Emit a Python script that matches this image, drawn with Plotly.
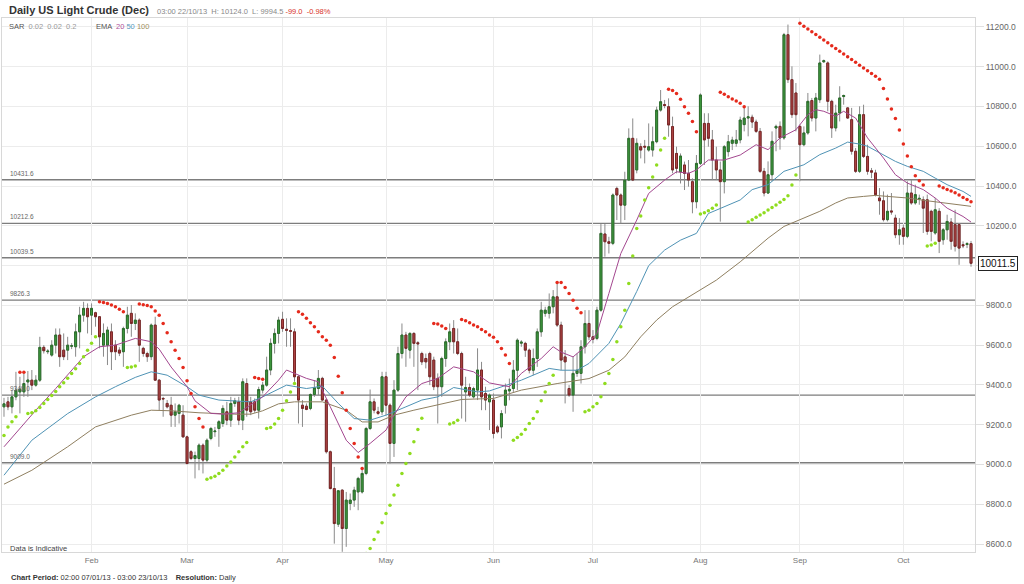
import plotly.graph_objects as go

# ---------------- data ----------------
open_ = [9290, 9315, 9290, 9340, 9365, 9365, 9415, 9424, 9399, 9424,
         9589, 9567, 9550, 9600, 9651, 9575, 9575, 9595, 9592, 9667,
         9751, 9785, 9751, 9763, 9743, 9600, 9600, 9667, 9600, 9575,
         9567, 9684, 9760, 9709, 9726, 9584, 9558, 9542, 9701, 9424,
         9332, 9307, 9298, 9248, 9257, 9248, 9139, 9064, 9030, 9030,
         9097, 9022, 9131, 9165, 9181, 9206, 9265, 9223, 9307, 9315,
         9223, 9407, 9315, 9315, 9273, 9374, 9399, 9475, 9609, 9659,
         9730, 9680, 9673, 9667, 9441, 9298, 9293, 9282, 9352, 9382,
         9433, 9324, 9064, 8879, 8700, 8871, 8678, 8804, 8821, 8862,
         8862, 8955, 9181, 9315, 9265, 9265, 9441, 9298, 9106, 9374,
         9558, 9651, 9575, 9659, 9612, 9558, 9533, 9558, 9525, 9433,
         9391, 9533, 9617, 9684, 9617, 9558, 9365, 9387, 9340, 9374,
         9475, 9357, 9315, 9324, 9189, 9189, 9298, 9370, 9382, 9474,
         9610, 9609, 9575, 9474, 9533, 9667, 9760, 9760, 9793, 9843,
         9701, 9541, 9382, 9349, 9458, 9458, 9592, 9709, 9642, 9634,
         9776, 10159, 10120, 10112, 10388, 10355, 10304, 10430, 10640, 10481,
         10598, 10600, 10581, 10581, 10623, 10782, 10810, 10799, 10699, 10564,
         10472, 10506, 10464, 10422, 10321, 10514, 10715, 10715, 10632, 10531,
         10481, 10422, 10573, 10615, 10615, 10632, 10709, 10742, 10746, 10722,
         10675, 10474, 10365, 10457, 10692, 10700, 10642, 11161, 10935, 10868,
         10700, 10608, 10667, 10830, 10742, 10834, 11025, 11019, 10826, 10692,
         10767, 10850, 10793, 10734, 10575, 10474, 10759, 10549, 10477, 10466,
         10340, 10326, 10231, 10275, 10239, 10155, 10189, 10147, 10365, 10315,
         10335, 10331, 10331, 10273, 10164, 10273, 10130, 10180, 10219, 10206,
         10206, 10105, 10106, 10110.5]
high = [9335, 9340, 9374, 9466, 9441, 9458, 9470, 9475, 9449, 9642,
        9600, 9580, 9625, 9684, 9684, 9659, 9642, 9610, 9709, 9793,
        9818, 9810, 9810, 9768, 9743, 9709, 9693, 9709, 9625, 9590,
        9693, 9793, 9802, 9760, 9735, 9592, 9567, 9709, 9743, 9430,
        9340, 9324, 9340, 9307, 9305, 9298, 9145, 9072, 9065, 9106,
        9106, 9131, 9189, 9189, 9223, 9298, 9315, 9340, 9335, 9340,
        9433, 9433, 9340, 9332, 9391, 9416, 9542, 9634, 9684, 9743,
        9768, 9735, 9735, 9684, 9449, 9324, 9307, 9357, 9424, 9475,
        9441, 9330, 9070, 8988, 8871, 8875, 8862, 8854, 8888, 8938,
        8988, 9189, 9377, 9332, 9290, 9466, 9466, 9307, 9424, 9592,
        9709, 9667, 9665, 9665, 9620, 9567, 9558, 9567, 9542, 9458,
        9542, 9634, 9709, 9726, 9684, 9567, 9441, 9407, 9391, 9584,
        9516, 9391, 9357, 9357, 9198, 9273, 9407, 9432, 9525, 9634,
        9625, 9617, 9583, 9583, 9684, 9818, 9793, 9860, 9877, 9919,
        9718, 9575, 9399, 9541, 9558, 9625, 9776, 9776, 9676, 9793,
        10209, 10209, 10145, 10363, 10397, 10363, 10472, 10690, 10740, 10640,
        10615, 10632, 10715, 10699, 10799, 10883, 10833, 10841, 10749, 10598,
        10564, 10523, 10531, 10439, 10556, 10866, 10766, 10766, 10682, 10598,
        10523, 10606, 10657, 10648, 10682, 10749, 10793, 10801, 10759, 10734,
        10692, 10491, 10524, 10675, 10709, 10725, 11170, 11212, 11002, 10918,
        10709, 10700, 10868, 10843, 10868, 11061, 11036, 11027, 10834, 10809,
        10902, 10860, 10796, 10793, 10591, 10801, 10809, 10608, 10491, 10482,
        10390, 10373, 10357, 10365, 10256, 10239, 10206, 10424, 10432, 10407,
        10357, 10348, 10357, 10281, 10340, 10289, 10189, 10256, 10239, 10281,
        10214, 10122, 10118, 10124.0]
low = [9240, 9273, 9257, 9323, 9257, 9340, 9340, 9374, 9391, 9415,
       9558, 9555, 9542, 9558, 9491, 9525, 9525, 9580, 9542, 9584,
       9718, 9659, 9651, 9693, 9584, 9542, 9500, 9475, 9525, 9545,
       9491, 9659, 9642, 9676, 9516, 9542, 9516, 9525, 9420, 9273,
       9240, 9282, 9189, 9189, 9206, 9135, 9000, 9022, 8930, 8971,
       8955, 9013, 9122, 9139, 9089, 9189, 9198, 9189, 9290, 9198,
       9173, 9240, 9248, 9260, 9231, 9357, 9391, 9449, 9558, 9609,
       9667, 9592, 9592, 9416, 9206, 9189, 9273, 9273, 9340, 9349,
       9320, 9055, 8875, 8602, 8686, 8561, 8586, 8770, 8787, 8770,
       8854, 8946, 9173, 9257, 9248, 9248, 9248, 9005, 9038, 9365,
       9533, 9491, 9533, 9491, 9374, 9500, 9483, 9399, 9374, 9206,
       9340, 9491, 9575, 9558, 9550, 9231, 9215, 9340, 9332, 9324,
       9273, 9273, 9173, 9131, 9156, 9131, 9256, 9323, 9365, 9374,
       9592, 9541, 9458, 9449, 9491, 9642, 9743, 9734, 9760, 9692,
       9474, 9307, 9340, 9265, 9441, 9407, 9558, 9625, 9609, 9625,
       9768, 10045, 10061, 10103, 10229, 10212, 10229, 10425, 10425, 10464,
       10539, 10514, 10573, 10548, 10615, 10774, 10791, 10648, 10464, 10464,
       10413, 10380, 10397, 10263, 10288, 10506, 10506, 10598, 10430, 10430,
       10221, 10363, 10548, 10581, 10598, 10615, 10675, 10650, 10692, 10667,
       10466, 10348, 10360, 10424, 10575, 10583, 10633, 10918, 10742, 10675,
       10424, 10600, 10658, 10725, 10675, 10818, 11019, 10776, 10642, 10675,
       10725, 10809, 10738, 10558, 10466, 10466, 10541, 10457, 10440, 10348,
       10256, 10222, 10222, 10256, 10138, 10105, 10105, 10138, 10306, 10306,
       10306, 10164, 10155, 10122, 10155, 10063, 10105, 10130, 10080, 10071,
       10004, 10088, 10088, 9994.5]
close = [9305, 9290, 9340, 9374, 9379, 9407, 9425, 9399, 9424, 9589,
         9572, 9570, 9600, 9651, 9542, 9542, 9600, 9597, 9667, 9751,
         9785, 9743, 9785, 9743, 9642, 9659, 9676, 9567, 9567, 9560,
         9684, 9751, 9709, 9726, 9600, 9558, 9542, 9701, 9424, 9324,
         9330, 9290, 9248, 9265, 9298, 9139, 9005, 9030, 9045, 9097,
         9022, 9122, 9181, 9168, 9215, 9282, 9223, 9307, 9320, 9223,
         9416, 9273, 9265, 9273, 9377, 9399, 9475, 9609, 9659, 9726,
         9684, 9675, 9670, 9441, 9324, 9282, 9277, 9352, 9386, 9433,
         9324, 9064, 8879, 8703, 8868, 8678, 8821, 8821, 8871, 8930,
         8955, 9181, 9315, 9273, 9257, 9441, 9298, 9106, 9374, 9558,
         9651, 9584, 9659, 9609, 9607, 9516, 9516, 9441, 9391, 9391,
         9533, 9617, 9667, 9617, 9558, 9399, 9387, 9349, 9382, 9475,
         9340, 9324, 9349, 9156, 9164, 9256, 9374, 9378, 9474, 9625,
         9615, 9575, 9474, 9533, 9667, 9776, 9776, 9793, 9843, 9701,
         9525, 9516, 9349, 9458, 9474, 9592, 9709, 9642, 9630, 9776,
         10162, 10120, 10112, 10355, 10355, 10304, 10430, 10640, 10430, 10615,
         10581, 10596, 10598, 10623, 10782, 10824, 10805, 10707, 10481, 10489,
         10551, 10464, 10430, 10321, 10514, 10858, 10632, 10640, 10531, 10481,
         10422, 10598, 10623, 10631, 10632, 10732, 10742, 10748, 10722, 10675,
         10474, 10365, 10457, 10625, 10700, 10642, 11161, 10935, 10759, 10759,
         10608, 10667, 10826, 10742, 10843, 11019, 11030, 10826, 10692, 10767,
         10843, 10855, 10742, 10575, 10474, 10759, 10549, 10474, 10470, 10357,
         10326, 10231, 10273, 10270, 10155, 10180, 10147, 10365, 10315, 10357,
         10338, 10289, 10172, 10172, 10281, 10122, 10180, 10222, 10122, 10097,
         10088, 10100, 10110.5, 10011.5]
day = list(range(len(close)))  # trading-session index (Jan 7 -> Oct 22)

month_day = [22, 46, 70, 96, 123, 148, 175, 200, 226]
month_lbl = ["Feb", "Mar", "Apr", "May", "Jun", "Jul", "Aug", "Sep", "Oct"]

price_ticks = [8600, 8800, 9000, 9200, 9400, 9600, 9800, 10000, 10200, 10400, 10600, 10800, 11000, 11200]
price_tick_text = ["8600.0", "8800.0", "9000.0", "9200.0", "9400.0", "9600.0", "9800.0", "",
                   "10200.0", "10400.0", "10600.0", "10800.0", "11000.0", "11200.0"]

ema20_day = [0, 8, 13, 20, 24, 28, 33, 37, 39, 42, 46, 48, 52, 55, 59, 65, 69, 71, 76, 79,
             82, 86, 89, 92, 96, 98, 101, 105, 109, 113, 118, 122, 127, 130, 135, 138, 140, 143, 146, 149,
             152, 155, 159, 162, 166, 169, 172, 174, 177, 181, 185, 189, 192, 195, 199, 202, 204, 206, 209, 211,
             214, 217, 221, 224, 227, 231, 234, 237, 241, 243]
ema20_val = [9089, 9273, 9382, 9542, 9592, 9600, 9634, 9617, 9580, 9490, 9391, 9320, 9257, 9253, 9260, 9340, 9424, 9475, 9433, 9416,
             9290, 9122, 9060, 9106, 9173, 9248, 9340, 9407, 9433, 9491, 9466, 9410, 9391, 9458, 9533, 9592, 9565, 9541, 9592, 9659,
             9860, 10061, 10229, 10363, 10430, 10472, 10464, 10481, 10531, 10531, 10556, 10608, 10583, 10642, 10683, 10759, 10784, 10776, 10751, 10776,
             10742, 10642, 10541, 10457, 10415, 10382, 10340, 10289, 10247, 10219]
ema50_day = [0, 7, 16, 23, 28, 33, 37, 41, 46, 49, 54, 62, 65, 71, 76, 80, 84, 88, 92, 96,
             101, 105, 109, 113, 119, 122, 130, 137, 140, 144, 147, 152, 155, 159, 162, 166, 170, 174, 177, 181,
             185, 188, 192, 196, 201, 205, 209, 212, 215, 217, 221, 224, 227, 231, 234, 237, 241, 243]
ema50_val = [8946, 9122, 9256, 9340, 9391, 9438, 9466, 9449, 9391, 9349, 9324, 9315, 9340, 9399, 9382, 9394, 9307, 9231, 9223, 9248,
             9290, 9324, 9340, 9387, 9365, 9370, 9424, 9483, 9474, 9474, 9508, 9609, 9709, 9870, 10000, 10078, 10128, 10162, 10262, 10296,
             10330, 10382, 10407, 10474, 10507, 10558, 10591, 10621, 10611, 10600, 10558, 10524, 10499, 10474, 10440, 10407, 10373, 10348]
ema100_day = [0, 7, 16, 23, 32, 37, 42, 49, 58, 62, 65, 69, 73, 80, 86, 90, 94, 98, 103, 107,
              111, 115, 123, 130, 139, 147, 152, 156, 160, 164, 168, 172, 175, 179, 185, 188, 192, 196, 201, 205,
              209, 212, 216, 219, 222, 227, 232, 237, 243]
ema100_val = [8901, 8971, 9089, 9189, 9248, 9273, 9270, 9260, 9253, 9253, 9270, 9305, 9315, 9315, 9273, 9214, 9214, 9248, 9273, 9290,
              9307, 9327, 9332, 9374, 9407, 9432, 9474, 9541, 9642, 9726, 9793, 9843, 9877, 9927, 10019, 10071, 10138, 10197, 10239, 10273,
              10315, 10340, 10348, 10353, 10348, 10340, 10326, 10315, 10298]

sar_up_day = [0, 1, 2, 3,
              6, 7, 8, 9, 10, 11, 12, 13, 14, 15, 16, 17, 18, 19, 20, 21, 22, 23,
              31, 32, 33,
              51, 52, 53, 54, 55, 56, 57, 58, 59, 60, 61,
              66, 67, 68, 69, 70, 71, 72, 73,
              91, 92, 93, 94, 95, 96, 97, 98, 99, 100, 101, 102, 103, 104, 105,
              112, 113, 114,
              128, 129, 130, 131, 132, 133, 134, 135, 136, 137, 138,
              146, 147, 148, 149, 150, 151, 152, 153, 154, 155, 156, 157, 158, 159, 160, 161, 162, 163, 164, 165, 166,
              175, 176, 177, 178, 179,
              187, 188, 189, 190, 191, 192, 193, 194, 195, 196, 197, 198, 199,
              232, 233, 234]
sar_up_val = [9146, 9189, 9215, 9240,
              9256, 9260, 9270, 9287, 9307, 9327, 9347, 9367, 9391, 9411, 9434, 9458, 9481, 9508, 9542, 9575, 9609, 9642,
              9488, 9490, 9495,
              8926, 8933, 8941, 8955, 8971, 8992, 9013, 9038, 9064, 9089, 9110,
              9181, 9186, 9203, 9231, 9273, 9320, 9365, 9407,
              8552, 8577, 8623, 8661, 8707, 8754, 8795, 8846, 8896, 8955, 9005, 9055, 9114, 9176, 9232,
              9203, 9210, 9223,
              9122, 9136, 9152, 9176, 9206, 9231, 9265, 9320, 9365, 9407, 9449,
              9265, 9273, 9290, 9307, 9340, 9407, 9458, 9528, 9617, 9692, 9776, 9910, 10048, 10187, 10249, 10330, 10392, 10446, 10506, 10581, 10640,
              10259, 10266, 10276, 10288, 10305,
              10219, 10231, 10243, 10254, 10266, 10279, 10292, 10305, 10318, 10332, 10351, 10405, 10455,
              10098, 10103, 10112]
sar_dn_day = [4, 5,
              24, 25, 26, 27, 28, 29, 30,
              34, 35, 36, 37, 38, 39, 40, 41, 42, 43, 44, 45, 46, 47, 48, 49, 50,
              63, 64, 65,
              74, 75, 76, 77, 78, 79, 80, 81, 82, 83, 84, 85, 86, 87, 88, 89, 90,
              108, 109, 110, 111,
              115, 116, 117, 118, 119, 120, 121, 122, 123, 124, 125, 126, 127,
              139, 140, 141, 142, 143, 144, 145,
              167, 168, 169, 170, 171, 172, 173, 174,
              180, 181, 182, 183, 184, 185, 186,
              200, 201, 202, 203, 204, 205, 206, 207, 208, 209, 210, 211, 212, 213, 214, 215,
              216, 217, 218, 219, 220, 221, 222, 223, 224, 225, 226, 227, 228, 229, 230, 231,
              235, 236, 237, 238, 239, 240, 241, 242, 243]
sar_dn_val = [9464, 9464,
              9818, 9815, 9810, 9802, 9793, 9781, 9768,
              9807, 9803, 9800, 9793, 9772, 9750, 9709, 9662, 9617, 9575, 9533, 9488, 9421, 9357, 9290, 9231, 9189,
              9437, 9433, 9428,
              9768, 9756, 9735, 9713, 9693, 9667, 9642, 9625, 9600, 9538, 9444, 9361, 9273, 9181, 9106, 9038, 8980,
              9709, 9706, 9696, 9684,
              9729, 9723, 9713, 9701, 9693, 9679, 9667, 9651, 9640, 9617, 9583, 9550, 9508,
              9915, 9915, 9890, 9860, 9826, 9786, 9763,
              10887, 10880, 10866, 10836, 10799, 10766, 10724, 10673,
              10872, 10861, 10849, 10838, 10828, 10816, 10799,
              11218, 11204, 11190, 11176, 11162, 11148, 11134, 11120, 11106, 11092, 11078, 11064, 11050, 11036, 11022, 11008,
              10994, 10980, 10966, 10952, 10937, 10891, 10838, 10787, 10740, 10682, 10611, 10551, 10497, 10452, 10427, 10405,
              10400, 10392, 10383, 10375, 10366, 10355, 10343, 10333, 10321]

level_val = [10431.6, 10212.6, 10039.5, 9826.3, 9349.0, 9009.0]
last_price = 10011.5

# ---------------- figure ----------------
FONT = "Liberation Sans, Arial, sans-serif"
body_top = [max(o, c) for o, c in zip(open_, close)]
body_bot = [min(o, c) for o, c in zip(open_, close)]

fig = go.Figure()

# wicks (grey)
fig.add_trace(go.Candlestick(
    x=day, open=open_, high=high, low=low, close=close,
    increasing=dict(line=dict(color="#8a8a8a", width=1), fillcolor="#8a8a8a"),
    decreasing=dict(line=dict(color="#8a8a8a", width=1), fillcolor="#8a8a8a"),
    whiskerwidth=0, showlegend=False, hoverinfo="skip"))
# bodies (coloured)
fig.add_trace(go.Candlestick(
    x=day, open=open_, high=body_top, low=body_bot, close=close,
    increasing=dict(line=dict(color="#2b6e2b", width=1), fillcolor="#3f9b3f"),
    decreasing=dict(line=dict(color="#7a2626", width=1), fillcolor="#b04545"),
    whiskerwidth=0, showlegend=False))

fig.add_trace(go.Scatter(x=ema100_day, y=ema100_val, mode="lines",
                         line=dict(color="#8f7f60", width=1), showlegend=False))
fig.add_trace(go.Scatter(x=ema50_day, y=ema50_val, mode="lines",
                         line=dict(color="#4f93b5", width=1), showlegend=False))
fig.add_trace(go.Scatter(x=ema20_day, y=ema20_val, mode="lines",
                         line=dict(color="#a3478f", width=1), showlegend=False))
fig.add_trace(go.Scatter(x=sar_up_day, y=sar_up_val, mode="markers",
                         marker=dict(color="#8fdc1e", size=3.5), showlegend=False))
fig.add_trace(go.Scatter(x=sar_dn_day, y=sar_dn_val, mode="markers",
                         marker=dict(color="#e52a1c", size=3.5), showlegend=False))

# horizontal levels + labels
for v in level_val:
    fig.add_shape(type="line", xref="paper", x0=0, x1=1, yref="y", y0=v, y1=v,
                  line=dict(color="#7d7d7d", width=1.4), layer="below")
    fig.add_annotation(x=0.006, xref="paper", y=v, yref="y", text=f"{v:.1f}",
                       showarrow=False, xanchor="left", yanchor="bottom", yshift=1,
                       font=dict(family=FONT, size=6.5, color="#666"))

# last price tag
fig.add_annotation(x=1.003, xref="paper", y=last_price, yref="y", text=f"{last_price:.1f}",
                   showarrow=False, xanchor="left", yanchor="middle",
                   bordercolor="#222", borderwidth=1, borderpad=1, bgcolor="white",
                   font=dict(family=FONT, size=10, color="#111"))

def px_x(px):
    return (px - 2) / 973.0

def px_y(py):
    return (552 - py) / 534.0

fig.add_annotation(x=px_x(7), y=px_y(10), xref="paper", yref="paper",
                   text="<b>Daily US Light Crude (Dec)</b>", showarrow=False,
                   xanchor="left", yanchor="middle", font=dict(family=FONT, size=11, color="#333"))
fig.add_annotation(x=px_x(155), y=px_y(11), xref="paper", yref="paper",
                   text="03:00 22/10/13 &nbsp;H: 10124.0 &nbsp;L: 9994.5 "
                        "<span style='color:#d8322a'>-99.0 &nbsp;-0.98%</span>",
                   showarrow=False, xanchor="left", yanchor="middle",
                   font=dict(family=FONT, size=7.5, color="#888"))
fig.add_annotation(x=px_x(7), y=px_y(26), xref="paper", yref="paper",
                   text="<span style='color:#555'>SAR</span> &nbsp;0.02 &nbsp;0.02 &nbsp;0.2",
                   showarrow=False, xanchor="left", yanchor="middle",
                   font=dict(family=FONT, size=7.5, color="#999"))
fig.add_annotation(x=px_x(94), y=px_y(26), xref="paper", yref="paper",
                   text="<span style='color:#555'>EMA</span> &nbsp;<span style='color:#b0509a'>20</span> "
                        "<span style='color:#5a9ac0'>50</span> <span style='color:#a09060'>100</span>",
                   showarrow=False, xanchor="left", yanchor="middle",
                   font=dict(family=FONT, size=7.5, color="#999"))
fig.add_annotation(x=px_x(8), y=px_y(548), xref="paper", yref="paper",
                   text="Data is Indicative", showarrow=False, xanchor="left", yanchor="middle",
                   font=dict(family=FONT, size=7.5, color="#444"))
fig.add_annotation(x=px_x(9), y=px_y(577), xref="paper", yref="paper",
                   text="<b>Chart Period:</b> 02:00 07/01/13 - 03:00 23/10/13 &nbsp;&nbsp; <b>Resolution:</b> Daily",
                   showarrow=False, xanchor="left", yanchor="middle",
                   font=dict(family=FONT, size=7.5, color="#333"))

fig.update_layout(
    width=1024, height=584,
    margin=dict(l=2, r=49, t=18, b=32),
    paper_bgcolor="white", plot_bgcolor="white",
    font=dict(family=FONT, size=8, color="#666"),
    hovermode=False,
    xaxis=dict(range=[-0.5, 244], rangeslider=dict(visible=False),
               tickmode="array", tickvals=month_day, ticktext=month_lbl,
               showgrid=True, gridcolor="#ececec", gridwidth=1,
               ticks="", tickfont=dict(size=8, color="#777"),
               showline=True, linecolor="#d8d8d8", mirror=True, zeroline=False),
    yaxis=dict(range=[8560, 11245], side="right", tickmode="array",
               tickvals=price_ticks, ticktext=price_tick_text,
               showgrid=True, gridcolor="#ececec", gridwidth=1,
               ticks="outside", ticklen=8, tickcolor="#e0e0e0",
               tickfont=dict(size=8.5, color="#666"),
               showline=True, linecolor="#d8d8d8", mirror=True, zeroline=False),
)

fig.write_html("out.html", config={"displayModeBar": False},
               post_script="document.body.style.margin='0';document.body.style.padding='0';")
